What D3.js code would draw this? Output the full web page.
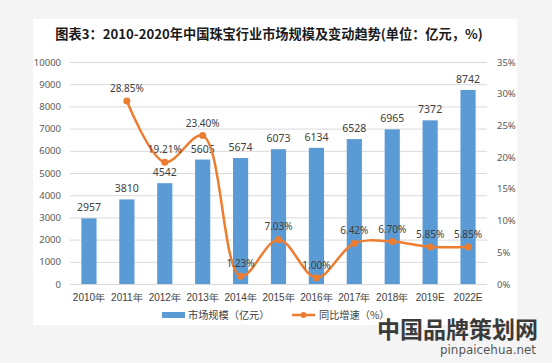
<!DOCTYPE html>
<html><head><meta charset="utf-8">
<script src="https://cdn.jsdelivr.net/npm/d3@7"></script>
<style>body{margin:0;background:#f4f4f4;}svg{display:block;font-family:"Noto Sans CJK SC","Noto Sans",sans-serif;}</style>
</head><body><svg id="c" width="552" height="363"></svg>
<script>
const categories = ["2010年","2011年","2012年","2013年","2014年","2015年","2016年","2017年","2018年","2019E","2022E"];
const marketSize = [2957,3810,4542,5605,5674,6073,6134,6528,6965,7372,8742];
const growth = [null,28.85,19.21,23.40,1.23,7.03,1.00,6.42,6.70,5.85,5.85];
const leftTicks = [0,1000,2000,3000,4000,5000,6000,7000,8000,9000,10000];
const rightTicks = [0,5,10,15,20,25,30,35];

const numFont = "Noto Sans, DejaVu Sans, sans-serif";
const svg = d3.select("#c");
svg.append("rect").attr("x",33).attr("y",19).attr("width",484).attr("height",306).attr("fill","#fff");
svg.append("text").attr("x",269).attr("y",39).attr("text-anchor","middle")
  .attr("font-size",13.2).attr("font-weight","bold").attr("fill","#1a1a1a")
  .text("图表3：2010-2020年中国珠宝行业市场规模及变动趋势(单位：亿元，%)");

const x = d3.scaleBand().domain(categories).range([70,487]).paddingInner(0.6).paddingOuter(0.3);
const yL = d3.scaleLinear().domain([0,10000]).range([284,62]);
const yR = d3.scaleLinear().domain([0,35]).range([284,62]);

// gridlines
svg.append("g").selectAll("line").data(leftTicks).join("line")
  .attr("x1",70).attr("x2",487).attr("y1",d=>yL(d)+0.5).attr("y2",d=>yL(d)+0.5)
  .attr("stroke","#d9d9d9").attr("stroke-width",1);

const gl = svg.append("g").attr("transform","translate(65,0)")
  .call(d3.axisLeft(yL).tickValues(leftTicks).tickSize(0).tickPadding(4).tickFormat(d3.format("d")));
gl.select(".domain").remove();
gl.selectAll("text").attr("font-size",9.5).attr("fill","#595959").attr("font-family",numFont);

const gr = svg.append("g").attr("transform","translate(493,0)")
  .call(d3.axisRight(yR).tickValues(rightTicks).tickSize(0).tickPadding(4).tickFormat(d=>d+"%"));
gr.select(".domain").remove();
gr.selectAll("text").attr("font-size",9.5).attr("fill","#595959").attr("font-family",numFont);

const gx = svg.append("g").attr("transform","translate(0,284)")
  .call(d3.axisBottom(x).tickSize(0).tickPadding(10));
gx.select(".domain").remove();
gx.selectAll("text").attr("font-size",10).attr("fill","#404040");

// bars
svg.append("g").selectAll("rect").data(marketSize).join("rect")
  .attr("x",(d,i)=>x(categories[i])).attr("width",x.bandwidth())
  .attr("y",d=>yL(d)).attr("height",d=>yL(0)-yL(d)).attr("fill","#5b9bd5");
svg.append("g").selectAll("text").data(marketSize).join("text")
  .attr("x",(d,i)=>x(categories[i])+x.bandwidth()/2).attr("y",d=>yL(d)-7)
  .attr("text-anchor","middle").attr("font-size",10.5).attr("fill","#404040")
  .attr("font-family",numFont).text(d=>d);

// line
const pts = growth.map((g,i)=>({c:categories[i],v:g})).filter(d=>d.v!==null);
const cx = d=>x(d.c)+x.bandwidth()/2;
svg.append("path").datum(pts)
  .attr("d",d3.line().x(cx).y(d=>yR(d.v)).curve(d3.curveCatmullRom.alpha(0.5)))
  .attr("fill","none").attr("stroke","#ed7d31").attr("stroke-width",2.5);
svg.append("g").selectAll("circle").data(pts).join("circle")
  .attr("cx",cx).attr("cy",d=>yR(d.v)).attr("r",3.5).attr("fill","#ed7d31");
svg.append("g").selectAll("text").data(pts).join("text")
  .attr("x",cx).attr("y",d=>yR(d.v)-9)
  .attr("text-anchor","middle").attr("font-size",10).attr("fill","#404040")
  .attr("font-family",numFont).text(d=>d.v.toFixed(2)+"%");

// legend
const lg = svg.append("g");
lg.append("rect").attr("x",162).attr("y",312).attr("width",23).attr("height",6).attr("fill","#5b9bd5");
lg.append("text").attr("x",188).attr("y",319).attr("font-size",10.2).attr("fill","#404040").text("市场规模（亿元）");
lg.append("line").attr("x1",292).attr("x2",315).attr("y1",315).attr("y2",315).attr("stroke","#ed7d31").attr("stroke-width",2.5);
lg.append("circle").attr("cx",303.5).attr("cy",315).attr("r",3).attr("fill","#ed7d31");
lg.append("text").attr("x",319).attr("y",319).attr("font-size",10.2).attr("fill","#404040").text("同比增速（%）");

// watermark
svg.append("text").attr("x",377).attr("y",338)
  .attr("font-size",22.5).attr("font-weight","bold").attr("fill","#3a3a3a")
  .attr("textLength",161).attr("lengthAdjust","spacingAndGlyphs").text("中国品牌策划网");
svg.append("text").attr("x",536).attr("y",354).attr("text-anchor","end")
  .attr("font-size",12).attr("fill","#555").attr("font-family","DejaVu Sans, sans-serif")
  .attr("textLength",96).attr("lengthAdjust","spacingAndGlyphs").text("pinpaicehua.net");
</script></body></html>
